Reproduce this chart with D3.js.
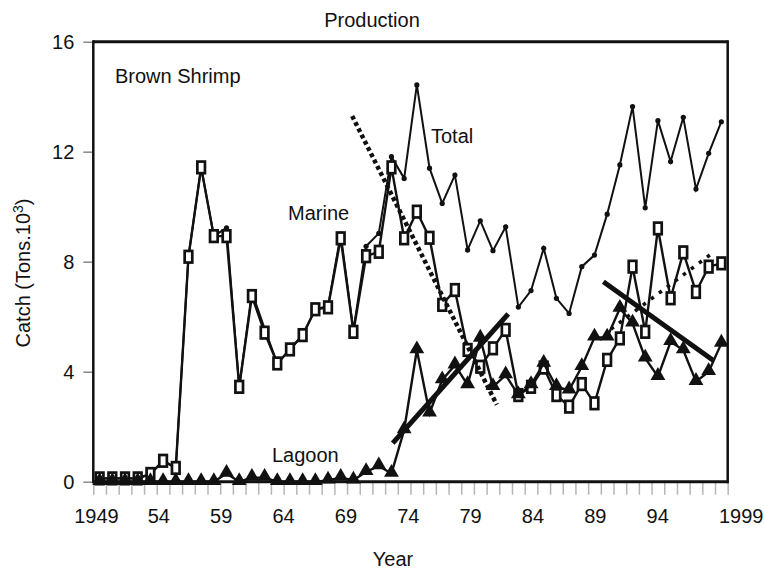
<!DOCTYPE html>
<html>
<head>
<meta charset="utf-8">
<script src="https://cdn.jsdelivr.net/npm/d3@7"></script>
<style>
  body { margin: 0; background: #fff; }
  text { font-family: "Liberation Sans", Arial, sans-serif; fill: #111; }
</style>
</head>
<body>
<svg id="chart" width="765" height="571"></svg>
<script>
// years 1949..1998 (one category per year)
const years = d3.range(1949, 1999);

const total = [0.12, 0.12, 0.12, 0.12, 0.28, 0.76, 0.5, 8.18, 11.43, 8.93,
  9.23, 3.45, 6.9, 5.57, 4.3, 4.81, 5.33, 6.27, 6.39, 9.0,
  5.5, 8.56, 9.03, 11.82, 11.03, 14.43, 11.4, 10.12, 11.15, 8.43,
  9.49, 8.4, 9.27, 6.35, 6.95, 8.49, 6.67, 6.12, 7.82, 8.24,
  9.73, 11.52, 13.64, 9.96, 13.13, 11.64, 13.25, 10.64, 11.94, 13.09];

const marine = [0.12, 0.12, 0.12, 0.12, 0.28, 0.76, 0.5, 8.18, 11.43, 8.93,
  8.93, 3.45, 6.75, 5.42, 4.3, 4.81, 5.33, 6.27, 6.34, 8.85,
  5.45, 8.2, 8.36, 11.43, 8.85, 9.82, 8.87, 6.43, 6.97, 4.79,
  4.18, 4.85, 5.52, 3.15, 3.45, 4.15, 3.15, 2.73, 3.55, 2.85,
  4.43, 5.21, 7.82, 5.45, 9.21, 6.67, 8.34, 6.9, 7.82, 7.94];

const lagoon = [0, 0, 0, 0, 0, 0, 0, 0, 0, 0,
  0.3, 0, 0.15, 0.15, 0, 0, 0, 0, 0.05, 0.15,
  0.05, 0.36, 0.57, 0.3, 1.88, 4.79, 2.49, 3.7, 4.24, 3.52,
  5.21, 3.45, 3.88, 3.15, 3.52, 4.3, 3.45, 3.33, 4.18, 5.25,
  5.25, 6.3, 5.76, 4.49, 3.82, 5.09, 4.79, 3.64, 4.0, 5.03];

// trend lines: [year, value] end points
const totalTrend = [[1968.9, 13.3], [1980.3, 2.8]];
const lagoonTrendUp = [[1972.1, 1.4], [1981.2, 6.1]];
const lagoonTrendDown = [[1988.7, 7.27], [1997.4, 4.4]];
const marineTrend = [[1989.3, 5.55], [1997.4, 8.35]];

const yTicks = [0, 4, 8, 12, 16];
const xLabelYears = [1949, 1954, 1959, 1964, 1969, 1974, 1979, 1984, 1989, 1994, 1999];
const xLabels = ["1949", "54", "59", "64", "69", "74", "79", "84", "89", "94", "1999"];

const svg = d3.select("#chart");

const x = d3.scaleLinear().domain([1948.5, 1998.5]).range([93.3, 727.7]);
const xLab = d3.scaleLinear().domain([1949, 1999]).range([96, 719.5]);
const y = d3.scaleLinear().domain([0, 16]).range([481.7, 41.7]);

// y axis ticks + labels
const yAxis = svg.append("g")
    .attr("transform", "translate(" + x.range()[0] + ",0)")
    .call(d3.axisLeft(y).tickValues(yTicks).tickSize(10).tickPadding(9));
yAxis.select(".domain").remove();
yAxis.selectAll("line").attr("stroke", "#888").attr("stroke-width", 1.5);
yAxis.selectAll("text").style("font-size", "20px")
    .style("font-family", "'Liberation Sans', Arial, sans-serif").attr("fill", "#111");

// x minor ticks (one per category boundary)
const xTickAxis = svg.append("g")
    .attr("transform", "translate(0," + y(0) + ")")
    .call(d3.axisBottom(x).tickValues(d3.range(1948.5, 1999, 1)).tickSize(13).tickFormat(""));
xTickAxis.select(".domain").remove();
xTickAxis.selectAll("line").attr("stroke", "#b5b5b5").attr("stroke-width", 1.5);

// x labels
const xLabAxis = svg.append("g")
    .attr("transform", "translate(0," + y(0) + ")")
    .call(d3.axisBottom(xLab).tickValues(xLabelYears).tickSize(0).tickPadding(27)
        .tickFormat((d, i) => xLabels[i]));
xLabAxis.select(".domain").remove();
xLabAxis.selectAll("text").style("font-size", "20px")
    .style("font-family", "'Liberation Sans', Arial, sans-serif").attr("fill", "#111");
xLabAxis.selectAll("text").filter(d => d === 1999).attr("text-anchor", "start").attr("dx", -1);

// frame
const fx0 = x.range()[0], fx1 = x.range()[1], fy0 = y(16), fy1 = y(0);
svg.append("line").attr("x1", fx0).attr("x2", fx1).attr("y1", fy0).attr("y2", fy0)
    .attr("stroke", "#111").attr("stroke-width", 3);
svg.append("line").attr("x1", fx0).attr("x2", fx1).attr("y1", fy1).attr("y2", fy1)
    .attr("stroke", "#111").attr("stroke-width", 3);
svg.append("line").attr("x1", fx0).attr("x2", fx0).attr("y1", fy0 - 1.5).attr("y2", fy1 + 1.5)
    .attr("stroke", "#111").attr("stroke-width", 2.5);
svg.append("line").attr("x1", fx1).attr("x2", fx1).attr("y1", fy0 - 1.5).attr("y2", fy1 + 1.5)
    .attr("stroke", "#111").attr("stroke-width", 2.5);

const line = d3.line().x((d, i) => x(years[i])).y(d => y(d));
const trendLine = d3.line().x(d => x(d[0])).y(d => y(d[1]));

// Total: thin line with small dots
svg.append("path").datum(total)
    .attr("d", line).attr("fill", "none").attr("stroke", "#111").attr("stroke-width", 2);
svg.append("g").selectAll("circle").data(total).enter().append("circle")
    .attr("cx", (d, i) => x(years[i])).attr("cy", d => y(d)).attr("r", 2.6).attr("fill", "#111");

// Marine: open tall squares
svg.append("path").datum(marine)
    .attr("d", line).attr("fill", "none").attr("stroke", "#111").attr("stroke-width", 2.4);
svg.append("g").selectAll("rect").data(marine).enter().append("rect")
    .attr("x", (d, i) => x(years[i]) - 3.8).attr("y", d => y(d) - 5.8)
    .attr("width", 7.6).attr("height", 11.6)
    .attr("fill", "#fff").attr("stroke", "#111").attr("stroke-width", 2.7);

// Lagoon: filled triangles
svg.append("path").datum(lagoon)
    .attr("d", line).attr("fill", "none").attr("stroke", "#111").attr("stroke-width", 2.4);
const tri = d3.symbol().type(d3.symbolTriangle).size(95);
svg.append("g").selectAll("path").data(lagoon).enter().append("path")
    .attr("d", tri)
    .attr("transform", (d, i) => "translate(" + x(years[i]) + "," + (y(d) - 1) + ")")
    .attr("fill", "#111");

// trend lines
svg.append("path").datum(totalTrend).attr("d", trendLine)
    .attr("fill", "none").attr("stroke", "#111").attr("stroke-width", 4.5)
    .attr("stroke-dasharray", "4,3");
svg.append("path").datum(marineTrend).attr("d", trendLine)
    .attr("fill", "none").attr("stroke", "#111").attr("stroke-width", 3.5)
    .attr("stroke-dasharray", "3.5,6.5");
[lagoonTrendUp, lagoonTrendDown].forEach(t => {
    svg.append("path").datum(t).attr("d", trendLine)
        .attr("fill", "none").attr("stroke", "#111").attr("stroke-width", 5);
});

// texts
svg.append("text").attr("x", 372).attr("y", 27).attr("text-anchor", "middle")
    .style("font-size", "20px").text("Production");
svg.append("text").attr("x", 115).attr("y", 83)
    .style("font-size", "20px").text("Brown Shrimp");
svg.append("text").attr("x", 431).attr("y", 143)
    .style("font-size", "20px").text("Total");
svg.append("text").attr("x", 288).attr("y", 220)
    .style("font-size", "20px").text("Marine");
svg.append("text").attr("x", 272).attr("y", 462)
    .style("font-size", "20px").text("Lagoon");
svg.append("text").attr("x", 393).attr("y", 566).attr("text-anchor", "middle")
    .style("font-size", "20px").text("Year");

const yl = svg.append("text")
    .attr("transform", "translate(30,273) rotate(-90)")
    .attr("text-anchor", "middle")
    .style("font-size", "20px");
yl.append("tspan").text("Catch (Tons.10");
yl.append("tspan").attr("dy", -7).style("font-size", "14px").text("3");
yl.append("tspan").attr("dy", 7).text(")");
</script>
</body>
</html>
